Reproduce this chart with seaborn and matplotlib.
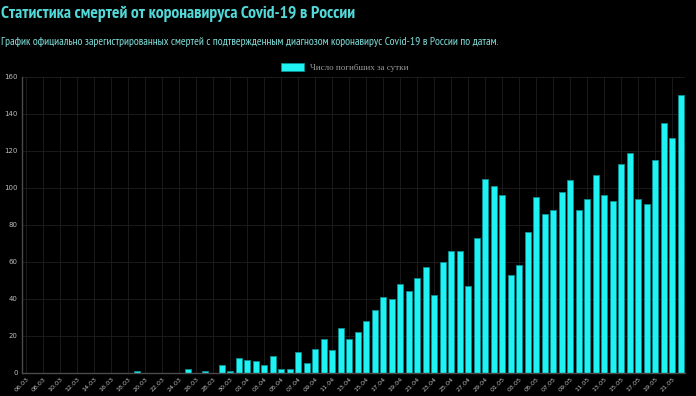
import pandas as pd
import matplotlib
import matplotlib.pyplot as plt
import seaborn as sns
from matplotlib.patches import Patch

matplotlib.use('Agg')

# Даты (по дням) и число погибших за сутки
dates = pd.date_range('2020-03-06', '2020-05-22').strftime('%d.%m').tolist()
deaths = [0, 0, 0, 0, 0, 0, 0, 0, 0, 0, 0, 0, 0, 1, 0, 0, 0, 0, 0, 2,
          0, 1, 0, 4, 1, 8, 7, 6, 4, 9, 2, 2, 11, 5, 13, 18, 12, 24, 18, 22,
          28, 34, 41, 40, 48, 44, 51, 57, 42, 60, 66, 66, 47, 73, 105, 101, 96, 53, 58, 76,
          95, 86, 88, 98, 104, 88, 94, 107, 96, 93, 113, 119, 94, 91, 115, 135, 127, 150]
y_ticks = [0, 20, 40, 60, 80, 100, 120, 140, 160]

title = 'Статистика смертей от коронавируса Covid-19 в России'
subtitle = ('График официально зарегистрированных смертей с подтвержденным '
            'диагнозом коронавирус Covid-19 в России по датам.')
legend_label = 'Число погибших за сутки'

sns.set_style('dark')
narrow = ['PT Sans Narrow', 'Roboto Condensed', 'DejaVu Sans']
plt.rcParams['font.family'] = narrow

fig = plt.figure(figsize=(6.96, 3.96), dpi=100, facecolor='black')
ax = fig.add_axes([0.0316, 0.0593, 0.9525, 0.7463], facecolor='black')

sns.barplot(x=dates, y=deaths, color='#1ef2f2', edgecolor='#0c8f94',
            linewidth=0.6, width=0.72, saturation=1, ax=ax)

ax.set_ylim(0, 160)
ax.set_xlim(-0.5, len(dates) - 0.5)
ax.set_yticks(y_ticks)
ax.set_yticklabels([str(v) for v in y_ticks], fontsize=5, color='#bdbdbd',
                   family=['DejaVu Sans'])
ax.set_xticks(range(0, len(dates), 2))
ax.set_xticklabels(dates[::2], rotation=45, ha='right', rotation_mode='anchor',
                   fontsize=4.6, color='#bdbdbd', family=['DejaVu Sans'])
ax.tick_params(axis='both', length=0, pad=3)
ax.grid(True, color='#1f1f1f', linewidth=0.6)
ax.set_axisbelow(True)
for side in ['top', 'right']:
    ax.spines[side].set_visible(False)
for side in ['left', 'bottom']:
    ax.spines[side].set_visible(True)
    ax.spines[side].set_color('#4a4a4a')
    ax.spines[side].set_linewidth(1)

fig.text(0.002, 0.985, title, color='#52d9d9', fontsize=12.6, fontweight='bold',
         va='top', ha='left')
fig.text(0.002, 0.893, subtitle, color='#7fe0dc', fontsize=8.3,
         va='center', ha='left')

handle = Patch(facecolor='#1ef2f2', edgecolor='#0c8f94', linewidth=0.6)
leg = fig.legend([handle], [legend_label], loc='center',
                 bbox_to_anchor=(0.495, 0.83), frameon=False,
                 handlelength=2.6, handleheight=1.0, handletextpad=0.6,
                 prop={'family': ['Liberation Serif', 'DejaVu Serif'], 'size': 6.5})
for t in leg.get_texts():
    t.set_color('#9a9a9a')

fig.savefig('out.png', dpi=100, facecolor='black')
plt.close(fig)
